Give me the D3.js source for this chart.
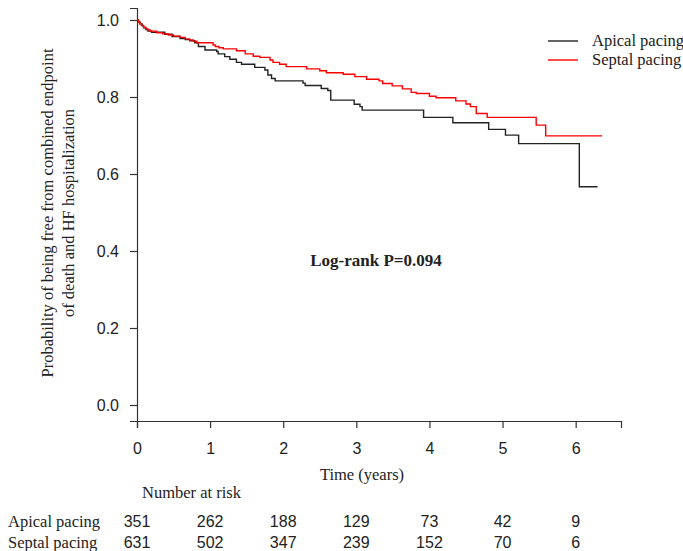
<!DOCTYPE html>
<html><head><meta charset="utf-8">
<script src="https://cdn.jsdelivr.net/npm/d3@7"></script>
<style>body{margin:0;background:#fff}</style>
</head><body>
<svg id="c" width="683" height="551"></svg>
<script>
// Kaplan-Meier step data: [time (years), survival]
const apical = [[0,1.0],[0.02,0.995],[0.04,0.990],[0.07,0.985],[0.09,0.980],[0.12,0.975],[0.15,0.971],[0.2,0.968],[0.38,0.963],[0.48,0.957],[0.59,0.952],[0.66,0.949],[0.72,0.946],[0.79,0.941],[0.84,0.931],[0.93,0.922],[1.09,0.918],[1.11,0.912],[1.20,0.905],[1.27,0.898],[1.36,0.890],[1.43,0.885],[1.61,0.877],[1.75,0.870],[1.79,0.857],[1.84,0.848],[1.89,0.842],[2.27,0.836],[2.30,0.830],[2.52,0.822],[2.61,0.817],[2.65,0.792],[2.97,0.781],[3.05,0.775],[3.08,0.766],[3.92,0.747],[4.32,0.733],[4.81,0.716],[5.04,0.701],[5.22,0.679],[6.05,0.567],[6.30,0.567]];
const septal = [[0,1.0],[0.02,0.995],[0.04,0.990],[0.06,0.986],[0.09,0.981],[0.12,0.977],[0.15,0.974],[0.18,0.971],[0.27,0.967],[0.35,0.964],[0.43,0.961],[0.5,0.958],[0.59,0.955],[0.66,0.951],[0.72,0.948],[0.77,0.945],[0.82,0.941],[1.04,0.935],[1.07,0.931],[1.12,0.928],[1.18,0.925],[1.36,0.920],[1.48,0.912],[1.59,0.906],[1.68,0.903],[1.82,0.896],[1.86,0.890],[1.95,0.885],[2.04,0.879],[2.32,0.873],[2.50,0.868],[2.59,0.863],[2.82,0.859],[2.98,0.853],[3.14,0.846],[3.31,0.842],[3.36,0.835],[3.49,0.829],[3.63,0.821],[3.75,0.812],[3.82,0.809],[4.00,0.802],[4.09,0.798],[4.36,0.790],[4.50,0.782],[4.56,0.775],[4.64,0.757],[4.79,0.747],[5.46,0.727],[5.59,0.699],[6.36,0.699]];
const xTicks = [0,1,2,3,4,5,6];
const yTicks = [0,0.2,0.4,0.6,0.8,1.0];
const groups = ["Apical pacing","Septal pacing"];
const colors = ["#222222","#ff0000"];
const riskApical = [351,262,188,129,73,42,9];
const riskSeptal = [631,502,347,239,152,70,6];

const svg = d3.select("#c");
const x = d3.scaleLinear().domain([0,6.62]).range([137,621]);
const y = d3.scaleLinear().domain([0,1]).range([405,20]);
const yAxisScale = d3.scaleLinear().domain([y.invert(421), y.invert(8)]).range([421,8]);

const serif = "'Liberation Serif','Times New Roman',serif";
const sans = "'Liberation Sans',Arial,sans-serif";
const fs = 16.5, fsn = 16;

const gx = svg.append("g").attr("transform","translate(0,421)")
  .call(d3.axisBottom(x).tickValues(xTicks).tickFormat(d3.format("d")).tickSizeOuter(0).tickSize(7).tickPadding(15));
const gy = svg.append("g").attr("transform","translate(137,0)")
  .call(d3.axisLeft(yAxisScale).tickValues(yTicks).tickFormat(d3.format(".1f")).tickSizeOuter(0).tickSize(7).tickPadding(11));
[gx,gy].forEach(g=>{
  g.selectAll("path,line").attr("stroke","#333").attr("stroke-width",1.2);
  g.selectAll("text").attr("font-family",sans).attr("font-size",fsn).attr("fill","#222");
});

const line = d3.line().x(d=>x(d[0])).y(d=>y(d[1])).curve(d3.curveStepAfter);
[apical,septal].forEach((s,i)=>{
  svg.append("path").datum(s).attr("d",line).attr("fill","none")
    .attr("stroke",colors[i]).attr("stroke-width",1.4);
});

// legend
groups.forEach((g,i)=>{
  const ly = 41 + i*19;
  svg.append("line").attr("x1",548).attr("x2",578).attr("y1",ly).attr("y2",ly)
    .attr("stroke",colors[i]).attr("stroke-width",1.4);
  svg.append("text").attr("x",592).attr("y",ly+5).text(g)
    .attr("font-family",serif).attr("font-size",fs).attr("fill","#222");
});

svg.append("text").attr("x",376).attr("y",266).attr("text-anchor","middle")
  .attr("font-family",serif).attr("font-size",17).attr("font-weight","bold").attr("fill","#222")
  .text("Log-rank P=0.094");

// axis titles
svg.append("text").attr("x",362).attr("y",480).attr("text-anchor","middle")
  .attr("font-family",serif).attr("font-size",fs).attr("fill","#222").text("Time (years)");
const yt = svg.append("text").attr("transform","translate(53,213) rotate(-90)")
  .attr("text-anchor","middle").attr("font-family",serif).attr("font-size",fs).attr("fill","#222");
yt.append("tspan").attr("x",0).attr("y",0).text("Probability  of being free from combined endpoint");
yt.append("tspan").attr("x",0).attr("y",21).text("of death and HF hospitalization");

// risk table
svg.append("text").attr("x",142).attr("y",498)
  .attr("font-family",serif).attr("font-size",fs).attr("fill","#222").text("Number at risk");
[riskApical,riskSeptal].forEach((row,i)=>{
  const by = 527 + i*21;
  svg.append("text").attr("x",8).attr("y",by).attr("font-family",serif).attr("font-size",fs)
    .attr("fill","#222").text(groups[i]);
  svg.selectAll(null).data(row).enter().append("text")
    .attr("x",(d,j)=>x(xTicks[j])).attr("y",by).attr("text-anchor","middle")
    .attr("font-family",sans).attr("font-size",fsn).attr("fill","#222").text(d=>d);
});
</script>
</body></html>
